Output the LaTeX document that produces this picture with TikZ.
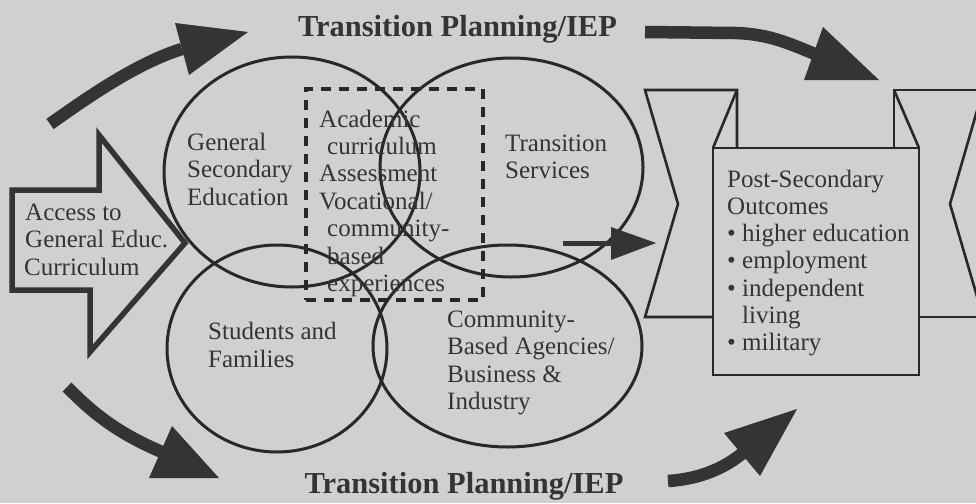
\documentclass[tikz,border=0pt]{standalone}
\usepackage{fontspec}
\setmainfont{Liberation Serif}
\usetikzlibrary{shapes.geometric}
\definecolor{bgc}{RGB}{208,208,208}
\definecolor{ink}{RGB}{52,52,52}
\definecolor{linec}{RGB}{40,40,40}
\begin{document}
\begin{tikzpicture}[x=1pt,y=-1pt,
  txt/.style={font=\fontsize{25}{27.5}\selectfont, text=ink, inner sep=0pt, anchor=base west},
  ttl/.style={font=\fontsize{30.5}{33}\selectfont\bfseries, text=ink, inner sep=0pt, anchor=base},
  venn/.style={draw=linec, line width=3pt, ellipse, inner sep=0pt},
  fatarrow/.style={draw=ink, line width=12.5pt},
  headfill/.style={fill=ink, draw=none},
  banner/.style={draw=linec, line width=2.6pt, line join=miter},
]
\useasboundingbox (0,0) rectangle (976,503);
\fill[bgc] (0,0) rectangle (976,503);
\clip (0,0) rectangle (976,503);

% Venn ellipses
\node[venn, minimum width=256pt, minimum height=230pt] (gse) at (292,172) {};
\node[venn, minimum width=263pt, minimum height=219pt] (ts) at (511.5,167.5) {};
\node[venn, minimum width=220pt, minimum height=207pt] (sf) at (277,348.5) {};
\node[venn, minimum width=269pt, minimum height=202pt] (cba) at (507.5,346) {};

% dashed box
\node[draw=linec, line width=3.5pt, dash pattern=on 10pt off 8pt, minimum width=177pt, minimum height=211pt, inner sep=0pt] (acad) at (394.5,194.5) {};

% block arrow
\draw[draw=ink, line width=5.5pt, line join=miter] (12,190) -- (99,190) -- (99,135) -- (185,243) -- (90,352) -- (90,290) -- (12,290) -- cycle;

% banner
\draw[banner] (737,148) -- (737,90) -- (645,90) -- (678,204) -- (645,317) -- (713,317);
\draw[banner] (737,90) -- (713,148);
\node[draw=linec, line width=2.6pt, minimum width=206pt, minimum height=227pt, inner sep=0pt] (post) at (816,261.5) {};
\draw[banner] (894,148) -- (894,90) -- (1000,90);
\draw[banner] (894,90) -- (919,148);
\draw[banner] (983,90) -- (950,204) -- (983,317);
\draw[banner] (919,317) -- (1000,317);

% curved arrows
\coordinate (tl0) at (50,124);
\coordinate (tl1) at (182,49);
\draw[fatarrow] (tl0) .. controls (95,92) and (140,62) .. (tl1);
\fill[headfill] (175,23) -- (248,32) -- (189,75) -- cycle;

\coordinate (tr0) at (645,32);
\coordinate (tr1) at (815,54);
\draw[fatarrow] (tr0) -- (735,33) .. controls (770,34) and (790,44) .. (tr1);
\fill[headfill] (823,27) -- (879,80) -- (804,80) -- cycle;

\coordinate (bl0) at (67,387);
\coordinate (bl1) at (162,452);
\draw[fatarrow] (bl0) .. controls (92,412) and (115,432) .. (bl1);
\fill[headfill] (172,426) -- (219,478) -- (149,478) -- cycle;

\coordinate (br0) at (668,481);
\coordinate (br1) at (744,452);
\draw[fatarrow] (br0) .. controls (700,479) and (725,468) .. (br1);
\fill[headfill] (797,409) -- (760,476) -- (724,433) -- cycle;

\coordinate (m0) at (563,243);
\coordinate (m1) at (615,243);
\draw[ink, line width=5pt] (m0) -- (m1);
\fill[headfill] (611,227) -- (656,243) -- (611,260) -- cycle;

% titles
\node[ttl] (t1) at (457.5,37) {Transition Planning/IEP};
\node[ttl] (t2) at (464,493) {Transition Planning/IEP};

% texts
\node[txt] (a1) at (25,220) {Access to};
\node[txt] (a2) at (25,247.5) {General Educ.};
\node[txt] (a3) at (24,275) {Curriculum};

\node[txt] (g1) at (187,150) {General};
\node[txt] (g2) at (187,177.5) {Secondary};
\node[txt] (g3) at (187,205) {Education};

\node[txt] (d1) at (319,127) {Academic};
\node[txt] (d2) at (327,154.4) {curriculum};
\node[txt] (d3) at (319,181.8) {Assessment};
\node[txt] (d4) at (319,209.2) {Vocational/};
\node[txt] (d5) at (327,236.6) {community-};
\node[txt] (d6) at (327,264) {based};
\node[txt] (d7) at (327,291.4) {experiences};

\node[txt] (s1) at (505,151) {Transition};
\node[txt] (s2) at (505,178) {Services};

\node[txt] (f1) at (208,339) {Students and};
\node[txt] (f2) at (208,367) {Families};

\node[txt] (c1) at (447,327) {Community-};
\node[txt] (c2) at (447,354.5) {Based Agencies/};
\node[txt] (c3) at (447,382) {Business \&};
\node[txt] (c4) at (447,409.5) {Industry};

\node[txt] (p1) at (727,187) {Post-Secondary};
\node[txt] (p2) at (727,214.3) {Outcomes};
\node[txt] (p3) at (727,241.6) {• higher education};
\node[txt] (p4) at (727,268.9) {• employment};
\node[txt] (p5) at (727,296.2) {• independent};
\node[txt] (p6) at (742,323.5) {living};
\node[txt] (p7) at (727,350.8) {• military};
\end{tikzpicture}
\end{document}
